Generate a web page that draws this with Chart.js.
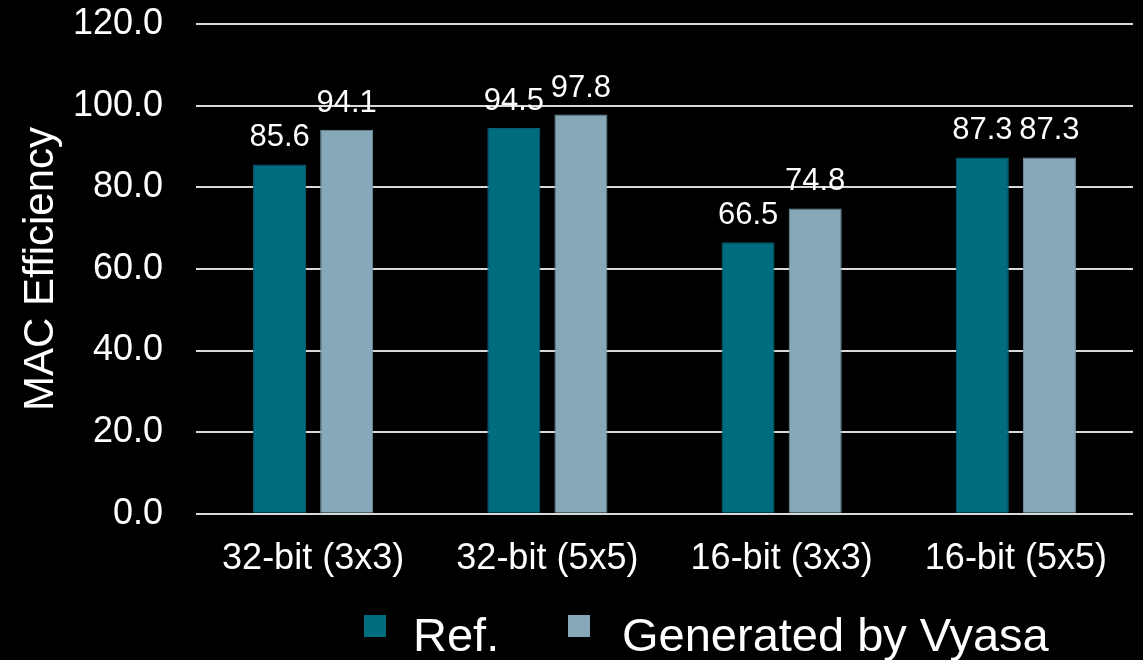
<!DOCTYPE html>
<html>
<head>
<meta charset="utf-8">
<script src="https://cdn.jsdelivr.net/npm/chart.js@4/dist/chart.umd.min.js"></script>
<style>
  html, body { margin: 0; padding: 0; background: #000; }
  #wrap { width: 1143px; height: 660px; position: relative; }
</style>
</head>
<body>
<div id="wrap"><canvas id="c"></canvas></div>
<script>
// Kernel configurations on the x axis
const categories = ['32-bit (3x3)', '32-bit (5x5)', '16-bit (3x3)', '16-bit (5x5)'];
// MAC efficiency (%) per configuration
const refValues = [85.6, 94.5, 66.5, 87.3];
const vyasaValues = [94.1, 97.8, 74.8, 87.3];
const seriesNames = ['Ref.', 'Generated by Vyasa'];
// Value axis ticks
const yTicks = [0, 20, 40, 60, 80, 100, 120];

const FONT = "'Liberation Sans', Arial, Helvetica, sans-serif";

// Writes each bar's value above it
const valueLabels = {
  id: 'valueLabels',
  afterDatasetsDraw(chart) {
    const ctx = chart.ctx;
    ctx.save();
    ctx.fillStyle = '#ffffff';
    ctx.font = '31px ' + FONT;
    ctx.textAlign = 'center';
    ctx.textBaseline = 'alphabetic';
    chart.data.datasets.forEach((ds, di) => {
      chart.getDatasetMeta(di).data.forEach((bar, i) => {
        ctx.fillText(ds.data[i].toFixed(1), bar.x, bar.y - 18);
      });
    });
    ctx.restore();
  }
};

// Legend row under the axis
const bottomLegend = {
  id: 'bottomLegend',
  afterDraw(chart) {
    const ctx = chart.ctx;
    const starts = [364, 568];
    const textX = [413, 622];
    const boxW = 22, boxH = 22;
    const top = 615;
    ctx.save();
    ctx.font = '47px ' + FONT;
    ctx.textBaseline = 'alphabetic';
    ctx.textAlign = 'left';
    chart.data.datasets.forEach((ds, i) => {
      ctx.fillStyle = ds.backgroundColor;
      ctx.fillRect(starts[i], top, boxW, boxH);
      ctx.fillStyle = '#ffffff';
      ctx.fillText(ds.label, textX[i], 651);
    });
    ctx.restore();
  }
};

new Chart(document.getElementById('c'), {
  type: 'bar',
  data: {
    labels: categories,
    datasets: [
      {
        label: seriesNames[0],
        data: refValues,
        backgroundColor: '#006c80',
        borderColor: '#0b5e6e',
        borderWidth: 1,
        categoryPercentage: 0.573,
        barPercentage: 0.79
      },
      {
        label: seriesNames[1],
        data: vyasaValues,
        backgroundColor: '#87a8b8',
        borderColor: '#74969f',
        borderWidth: 1,
        categoryPercentage: 0.573,
        barPercentage: 0.79
      }
    ]
  },
  options: {
    responsive: true,
    maintainAspectRatio: false,
    animation: false,
    layout: { padding: { top: 0, right: 10, bottom: 55, left: 0 } },
    plugins: {
      legend: { display: false },
      tooltip: { enabled: false }
    },
    scales: {
      x: {
        grid: { display: false, drawTicks: false },
        border: { display: false },
        ticks: {
          color: '#ffffff',
          font: { family: FONT, size: 36 },
          padding: 24,
          maxRotation: 0
        }
      },
      y: {
        min: 0,
        max: 120,
        afterBuildTicks(scale) {
          scale.ticks = yTicks.map(v => ({ value: v }));
        },
        afterFit(scale) {
          // fixed axis band; room for the top label above the plot
          scale.width = 196;
          scale.paddingTop = 24;
          scale.paddingBottom = 21;
        },
        grid: { color: '#d9d9d9', lineWidth: 2, drawTicks: false },
        border: { display: false },
        ticks: {
          color: '#ffffff',
          font: { family: FONT, size: 36 },
          padding: 33,
          callback: v => Number(v).toFixed(1)
        },
        title: {
          display: true,
          text: 'MAC Efficiency',
          color: '#ffffff',
          font: { family: FONT, size: 42 },
          padding: { top: 16, bottom: 0 }
        }
      }
    }
  },
  plugins: [valueLabels, bottomLegend]
});
</script>
</body>
</html>
